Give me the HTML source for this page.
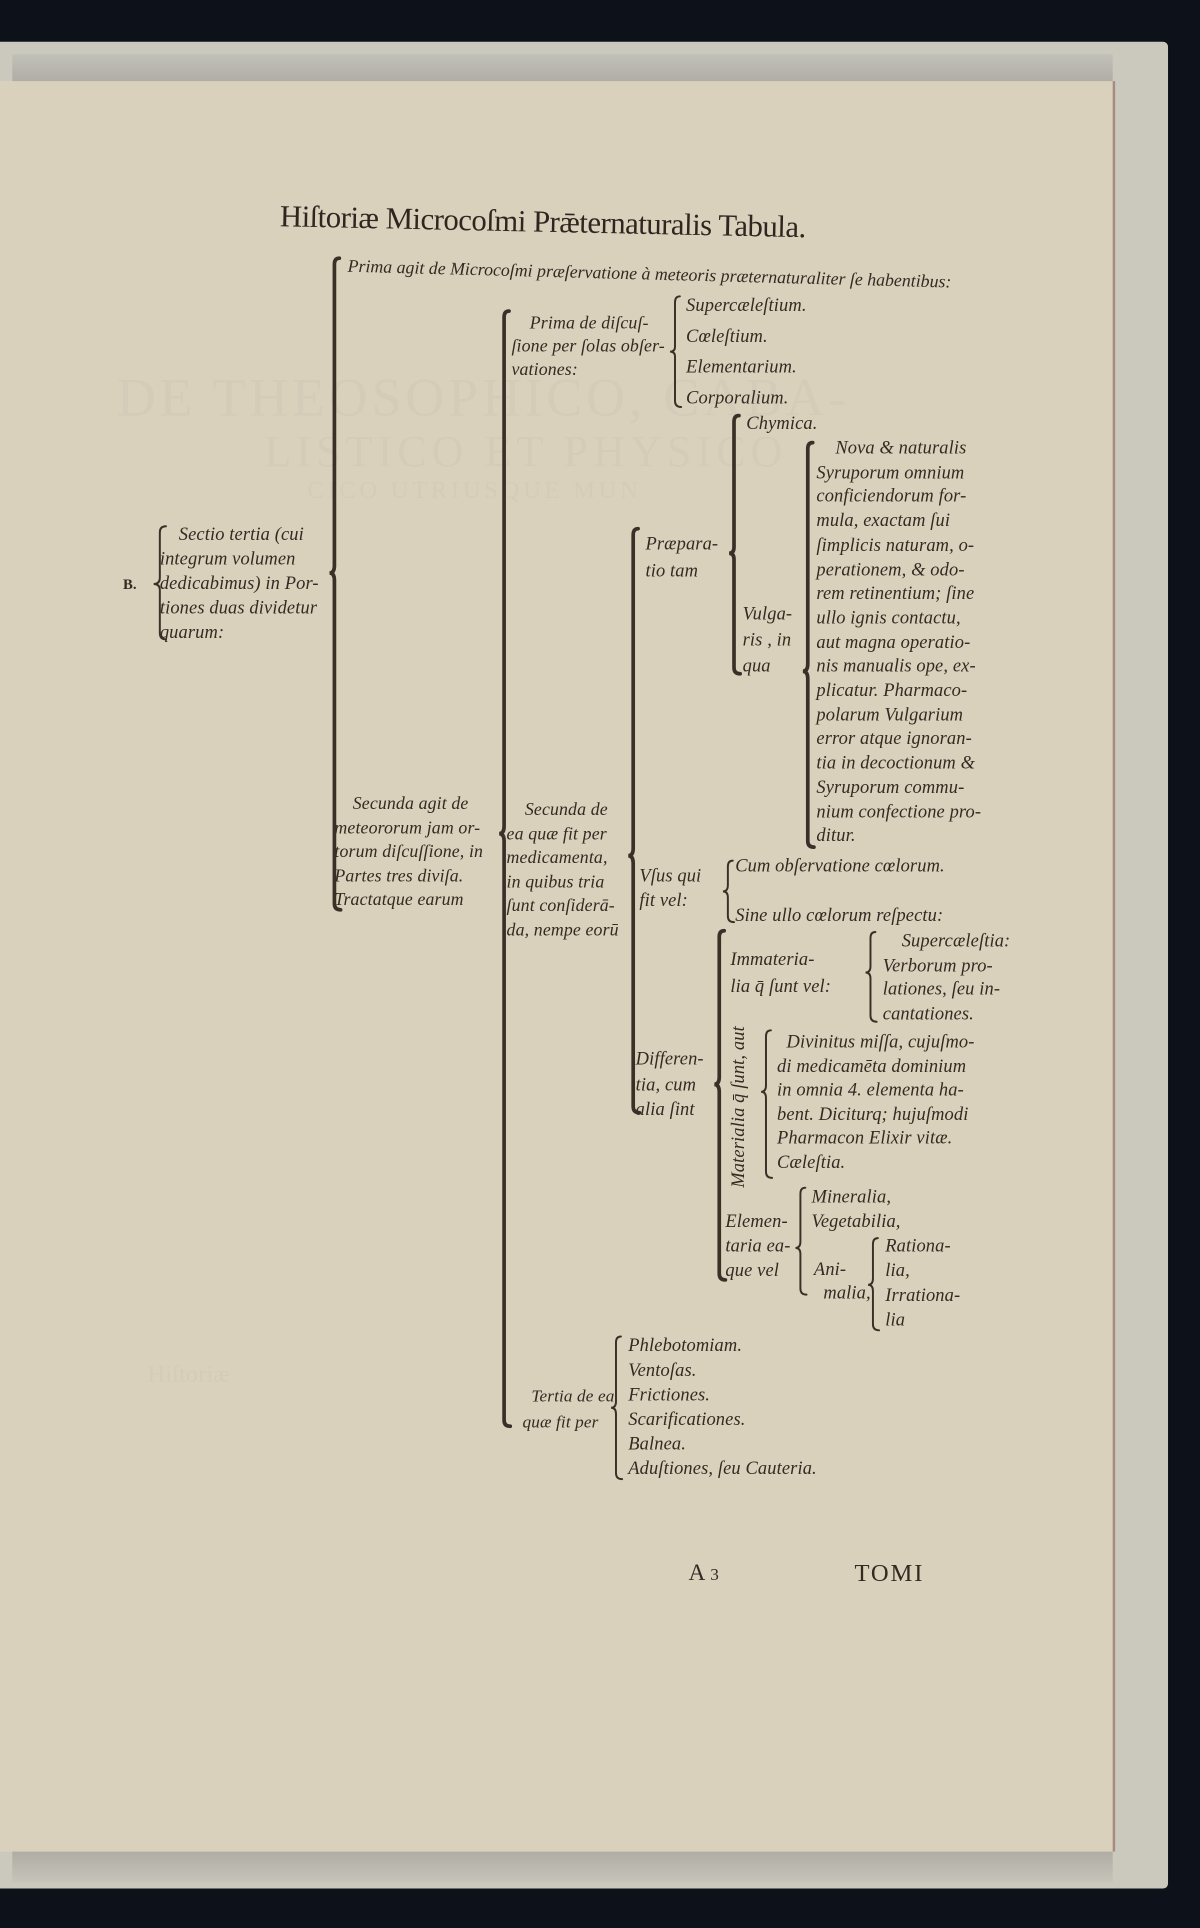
<!DOCTYPE html>
<html><head><meta charset="utf-8">
<style>
html,body{margin:0;padding:0;}
body{width:1200px;height:1928px;background:#0d1119;overflow:hidden;position:relative;}
#wrap{position:absolute;left:0;top:0;width:976px;height:1568px;transform:scale(1.2295);transform-origin:0 0;}
.cover{position:absolute;left:0;top:34px;width:950px;height:1502px;background:#cbc8bd;border-radius:0 4px 4px 0;}
.fold{position:absolute;left:10px;top:44px;width:895px;height:24px;background:linear-gradient(#c2c1b9,#adaba3);}
.foldb{position:absolute;left:10px;top:1505px;width:895px;height:26px;background:linear-gradient(#adaba3,#c6c4ba);}
.page{position:absolute;left:0;top:66px;width:905px;height:1440px;background:#dad1bd;border-right:2px solid #a88b80;}
.t{position:absolute;font-family:"Liberation Serif",serif;font-style:italic;color:#332a22;font-size:15px;line-height:20px;white-space:nowrap;letter-spacing:0.1px;}
.g{position:absolute;font-family:"Liberation Serif",serif;color:#d4cbb8;white-space:nowrap;}
svg{position:absolute;left:0;top:0;}
</style></head><body>
<div id="wrap">
<div class="cover"></div>
<div class="fold"></div>
<div class="foldb"></div>
<div class="page"></div>
<div class="g" style="left:95px;top:298px;font-size:44px;letter-spacing:3px;">DE THEOSOPHICO, CABA-</div>
<div class="g" style="left:215px;top:346px;font-size:36px;letter-spacing:4px;">LISTICO ET PHYSICO</div>
<div class="g" style="left:250px;top:388px;font-size:20px;letter-spacing:3px;">CICO UTRIUSQUE MUN</div>
<div class="g" style="left:120px;top:1107px;font-size:20px;">Hiſtoriæ</div>

<div class="t" style="left:228px;top:162px;font-size:25px;line-height:30px;font-style:normal;letter-spacing:-0.4px;color:#2f2620;transform:rotate(1.2deg);transform-origin:0 0;">Hiſtoriæ Microcoſmi Prǣternaturalis Tabula.</div>

<div class="t" style="left:283px;top:207px;font-size:14.5px;letter-spacing:0;transform:rotate(1.5deg);transform-origin:0 0;">Prima agit de Microcoſmi præſervatione à meteoris præternaturaliter ſe habentibus:</div>

<div class="t" style="left:100px;top:465px;font-style:normal;font-size:12px;font-weight:bold">B.</div>
<div class="t" style="left:130px;top:425px;">&nbsp;&nbsp;&nbsp;&nbsp;Sectio tertia (cui<br>integrum volumen<br>dedicabimus) in Por-<br>tiones duas dividetur<br>quarum:</div>

<div class="t" style="left:416px;top:254px;line-height:19px;font-size:14.5px;">&nbsp;&nbsp;&nbsp;&nbsp;Prima de diſcuſ-<br>ſione per ſolas obſer-<br>vationes:</div>
<div class="t" style="left:558px;top:237px;line-height:25px;">Supercæleſtium.<br>Cœleſtium.<br>Elementarium.<br>Corporalium.</div>
<div class="t" style="left:607px;top:335px;">Chymica.</div>
<div class="t" style="left:525px;top:432px;line-height:22px;">Præpara-<br>tio tam</div>
<div class="t" style="left:604px;top:490px;line-height:21px;">Vulga-<br>ris , in<br>qua</div>
<div class="t" style="left:664px;top:356px;line-height:19.7px;font-size:15px;">&nbsp;&nbsp;&nbsp;&nbsp;Nova &amp; naturalis<br>Syruporum omnium<br>conficiendorum for-<br>mula, exactam ſui<br>ſimplicis naturam, o-<br>perationem, &amp; odo-<br>rem retinentium; ſine<br>ullo ignis contactu,<br>aut magna operatio-<br>nis manualis ope, ex-<br>plicatur. Pharmaco-<br>polarum Vulgarium<br>error atque ignoran-<br>tia in decoctionum &amp;<br>Syruporum commu-<br>nium confectione pro-<br>ditur.</div>

<div class="t" style="left:272px;top:645px;line-height:19.5px;font-size:14.5px;">&nbsp;&nbsp;&nbsp;&nbsp;Secunda agit de<br>meteororum jam or-<br>torum diſcuſſione, in<br>Partes tres diviſa.<br>Tractatque earum</div>
<div class="t" style="left:412px;top:650px;line-height:19.5px;font-size:14.5px;">&nbsp;&nbsp;&nbsp;&nbsp;Secunda de<br>ea quæ fit per<br>medicamenta,<br>in quibus tria<br>ſunt conſiderā-<br>da, nempe eorū</div>
<div class="t" style="left:520px;top:703px;line-height:20px;">Vſus qui<br>fit vel:</div>
<div class="t" style="left:598px;top:695px;">Cum obſervatione cœlorum.</div>
<div class="t" style="left:598px;top:735px;">Sine ullo cœlorum reſpectu:</div>
<div class="t" style="left:594px;top:770px;line-height:22px;">Immateria-<br>lia q̄ ſunt vel:</div>
<div class="t" style="left:718px;top:757px;line-height:19.7px;">&nbsp;&nbsp;&nbsp;&nbsp;Supercæleſtia:<br>Verborum pro-<br>lationes, ſeu in-<br>cantationes.</div>
<div class="t" style="left:517px;top:852px;line-height:20.5px;">Differen-<br>tia, cum<br>alia ſint</div>
<div class="t" style="left:591px;top:966px;transform:rotate(-90deg);transform-origin:0 0;font-size:15px;">Materialia q̄ ſunt, aut</div>
<div class="t" style="left:632px;top:839px;line-height:19.6px;font-size:15px;">&nbsp;&nbsp;Divinitus miſſa, cujuſmo-<br>di medicamēta dominium<br>in omnia 4. elementa ha-<br>bent. Diciturq; hujuſmodi<br>Pharmacon Elixir vitæ.<br>Cæleſtia.</div>
<div class="t" style="left:590px;top:984px;line-height:20px;">Elemen-<br>taria ea-<br>que vel</div>
<div class="t" style="left:660px;top:964px;line-height:20px;">Mineralia,<br>Vegetabilia,</div>
<div class="t" style="left:662px;top:1024px;line-height:19px;">Ani-<br>&nbsp;&nbsp;malia,</div>
<div class="t" style="left:720px;top:1004px;line-height:20px;">Rationa-<br>lia,<br>Irrationa-<br>lia</div>

<div class="t" style="left:425px;top:1126px;line-height:21px;font-size:14px;">&nbsp;&nbsp;Tertia de ea<br>quæ fit per</div>
<div class="t" style="left:511px;top:1085px;line-height:20px;font-size:15px;">Phlebotomiam.<br>Ventoſas.<br>Frictiones.<br>Scarificationes.<br>Balnea.<br>Aduſtiones, ſeu Cauteria.</div>

<div class="t" style="left:560px;top:1268px;font-style:normal;font-size:19px;line-height:24px;">A <span style="font-size:14px">3</span></div>
<div class="t" style="left:695px;top:1268px;font-style:normal;font-size:20px;line-height:24px;letter-spacing:1.5px;">TOMI</div>

<svg width="976" height="1568" viewBox="0 0 976 1568" fill="none" stroke="#3a3028" stroke-linecap="round">
<g stroke-width="3">
<path d="M276 210 Q272 210 272 215 L272 460 Q272 466 268 466 Q272 466 272 472 L272 735 Q272 740 277 740"/>
<path d="M414 253 Q410 253 410 258 L410 672 Q410 678 406 678 Q410 678 410 684 L410 1155 Q410 1160 415 1160"/>
<path d="M519 430 Q515 430 515 435 L515 690 Q515 696 511 696 Q515 696 515 702 L515 900 Q515 905 520 905"/>
<path d="M601 338 Q597 338 597 343 L597 445 Q597 450 593 450 Q597 450 597 455 L597 543 Q597 548 602 548"/>
<path d="M661 360 Q657 360 657 365 L657 540 Q657 546 653 546 Q657 546 657 552 L657 684 Q657 689 662 689"/>
<path d="M589 757 Q585 757 585 762 L585 876 Q585 882 581 882 Q585 882 585 888 L585 1036 Q585 1041 590 1041"/>
</g>
<g stroke-width="1.6">
<path d="M135 428 Q130 428 130 433 L130 470 Q130 475 125 475 Q130 475 130 480 L130 515 Q130 520 135 520"/>
<path d="M553 241 Q549 241 549 246 L549 282 Q549 286 545 286 Q549 286 549 290 L549 326 Q549 331 554 331"/>
<path d="M596 700 Q592 700 592 705 L592 720 Q592 725 588 725 Q592 725 592 730 L592 745 Q592 750 597 750"/>
<path d="M712 758 Q708 758 708 763 L708 786 Q708 791 704 791 Q708 791 708 796 L708 826 Q708 831 713 831"/>
<path d="M627 838 Q623 838 623 843 L623 883 Q623 888 619 888 Q623 888 623 893 L623 953 Q623 958 628 958"/>
<path d="M655 966 Q651 966 651 971 L651 1010 Q651 1015 647 1015 Q651 1015 651 1020 L651 1048 Q651 1053 656 1053"/>
<path d="M714 1007 Q710 1007 710 1012 L710 1040 Q710 1045 706 1045 Q710 1045 710 1050 L710 1077 Q710 1082 715 1082"/>
<path d="M505 1087 Q501 1087 501 1092 L501 1140 Q501 1145 497 1145 Q501 1145 501 1150 L501 1198 Q501 1203 506 1203"/>
</g>
</svg>
</div>
</body></html>
